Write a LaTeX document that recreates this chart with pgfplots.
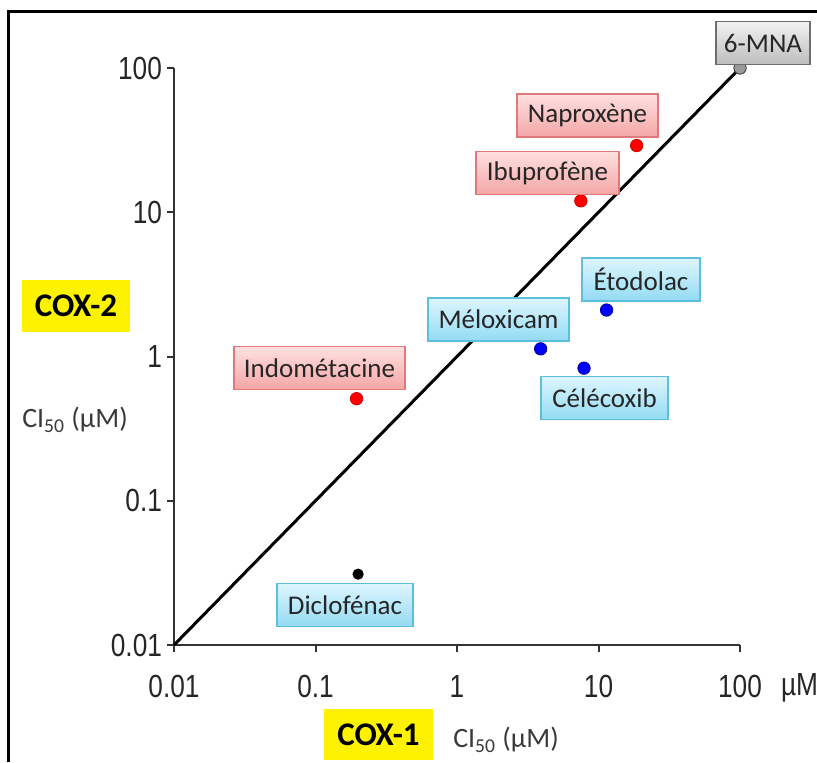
\documentclass[border=0pt]{standalone}
\usepackage{pgfplots}
\pgfplotsset{compat=1.18}
\usepackage{fontspec}
\setmainfont{Carlito}
\newfontfamily\narrowfont[FakeStretch=0.82]{Liberation Sans}
\definecolor{axisgray}{HTML}{333333}
\definecolor{pinktop}{HTML}{FFE0E0}
\definecolor{pinkbot}{HTML}{F4A6A6}
\definecolor{pinkedge}{HTML}{E07A7A}
\definecolor{bluetop}{HTML}{DDF6FF}
\definecolor{bluebot}{HTML}{93DBF3}
\definecolor{blueedge}{HTML}{5EBEDD}
\definecolor{graytop}{HTML}{F2F2F2}
\definecolor{graybot}{HTML}{BDBDBD}
\definecolor{grayedge}{HTML}{6E6E6E}
\definecolor{labeltext}{HTML}{262626}
\definecolor{citext}{HTML}{3A3A3A}
\newcommand{\tl}[1]{\mbox{\narrowfont\fontsize{16}{16}\selectfont #1}}
\begin{document}
\begin{tikzpicture}[x=1pt,y=1pt]
\path[use as bounding box] (0,0) rectangle (408.5,381);
\draw[line width=1.5pt] (4,0) -- (4,375) -- (408.5,375);
\begin{axis}[
  at={(87pt,58.5pt)}, anchor=south west,
  scale only axis, width=283pt, height=288.5pt,
  xmode=log, ymode=log,
  xmin=0.01, xmax=100, ymin=0.01, ymax=100,
  axis x line=bottom, axis y line=left,
  axis line style={-, line width=1pt, color=axisgray},
  tick align=outside, major tick length=3.5pt,
  tick style={line width=1pt, color=axisgray},
  xminorticks=false, yminorticks=false,
  xtick={0.01,0.1,1,10,100}, xticklabels={\tl{0.01},\tl{0.1},\tl{1},\tl{10},\tl{100}},
  ytick={0.01,0.1,1,10,100}, yticklabels={\tl{0.01},\tl{0.1},\tl{1},\tl{10},\tl{100}},
  tick label style={text=labeltext},
  xticklabel style={yshift=-8pt},
  yticklabel style={xshift=1pt},
  /pgf/number format/assume math mode=true,
  clip=false,
]
\addplot[line width=1.5pt, black] coordinates {(0.01,0.01) (100,100)};
\addplot[only marks, mark=*, mark size=3.1pt, mark options={fill=red, draw=red!80!black, line width=0.4pt}]
  coordinates {(18.6,29) (7.5,12) (0.195,0.51)};
\addplot[only marks, mark=*, mark size=3.1pt, mark options={fill=blue, draw=blue!60!black, line width=0.4pt}]
  coordinates {(3.9,1.13) (7.9,0.83) (11.4,2.1)};
\addplot[only marks, mark=*, mark size=2.6pt, mark options={fill=black, draw=black}]
  coordinates {(0.2,0.031)};
\addplot[only marks, mark=*, mark size=3.1pt, mark options={fill=gray!80, draw=gray!40!black, line width=0.4pt}]
  coordinates {(100,100)};
\end{axis}
\tikzset{
  lbl/.style={inner sep=0pt, line width=0.6pt, font=\fontsize{13.5}{13.5}\selectfont, text=labeltext, minimum height=21.5pt},
  pinkbox/.style={lbl, draw=pinkedge, top color=pinktop, bottom color=pinkbot},
  bluebox/.style={lbl, draw=blueedge, top color=bluetop, bottom color=bluebot},
  graybox/.style={lbl, draw=grayedge, top color=graytop, bottom color=graybot},
}
\node[graybox, minimum width=47pt] at (381.5,359.5) {6-MNA};
\node[pinkbox, minimum width=70.5pt] at (293.75,323.25) {Naproxène};
\node[pinkbox, minimum width=71.5pt] at (273.75,294.5) {Ibuprofène};
\node[pinkbox, minimum width=85.5pt] at (159.75,197) {Indométacine};
\node[bluebox, minimum width=70.5pt] at (249.25,221.25) {Méloxicam};
\node[bluebox, minimum width=59pt] at (320.5,241.25) {Étodolac};
\node[bluebox, minimum width=63.5pt] at (302.25,182) {Célécoxib};
\node[bluebox, minimum width=68pt] at (172.5,78.5) {Diclofénac};
% axis titles
\node[fill=yellow, minimum width=54pt, minimum height=26pt, inner sep=0pt, font=\bfseries\fontsize{16.5}{16.5}\selectfont] at (38,228) {COX-2};
\node[fill=yellow, minimum width=54.5pt, minimum height=25.5pt, inner sep=0pt, font=\bfseries\fontsize{16.5}{16.5}\selectfont] at (189.25,13.75) {COX-1};
\node[font=\fontsize{14}{14}\selectfont, text=citext] at (37.5,171) {CI\textsubscript{50} (µM)};
\node[font=\fontsize{14}{14}\selectfont, text=citext] at (253,11) {CI\textsubscript{50} (µM)};
\node[anchor=west, font=\narrowfont\fontsize{16}{16}\selectfont, text=labeltext] at (387,37) {µM};
\end{tikzpicture}
\end{document}
